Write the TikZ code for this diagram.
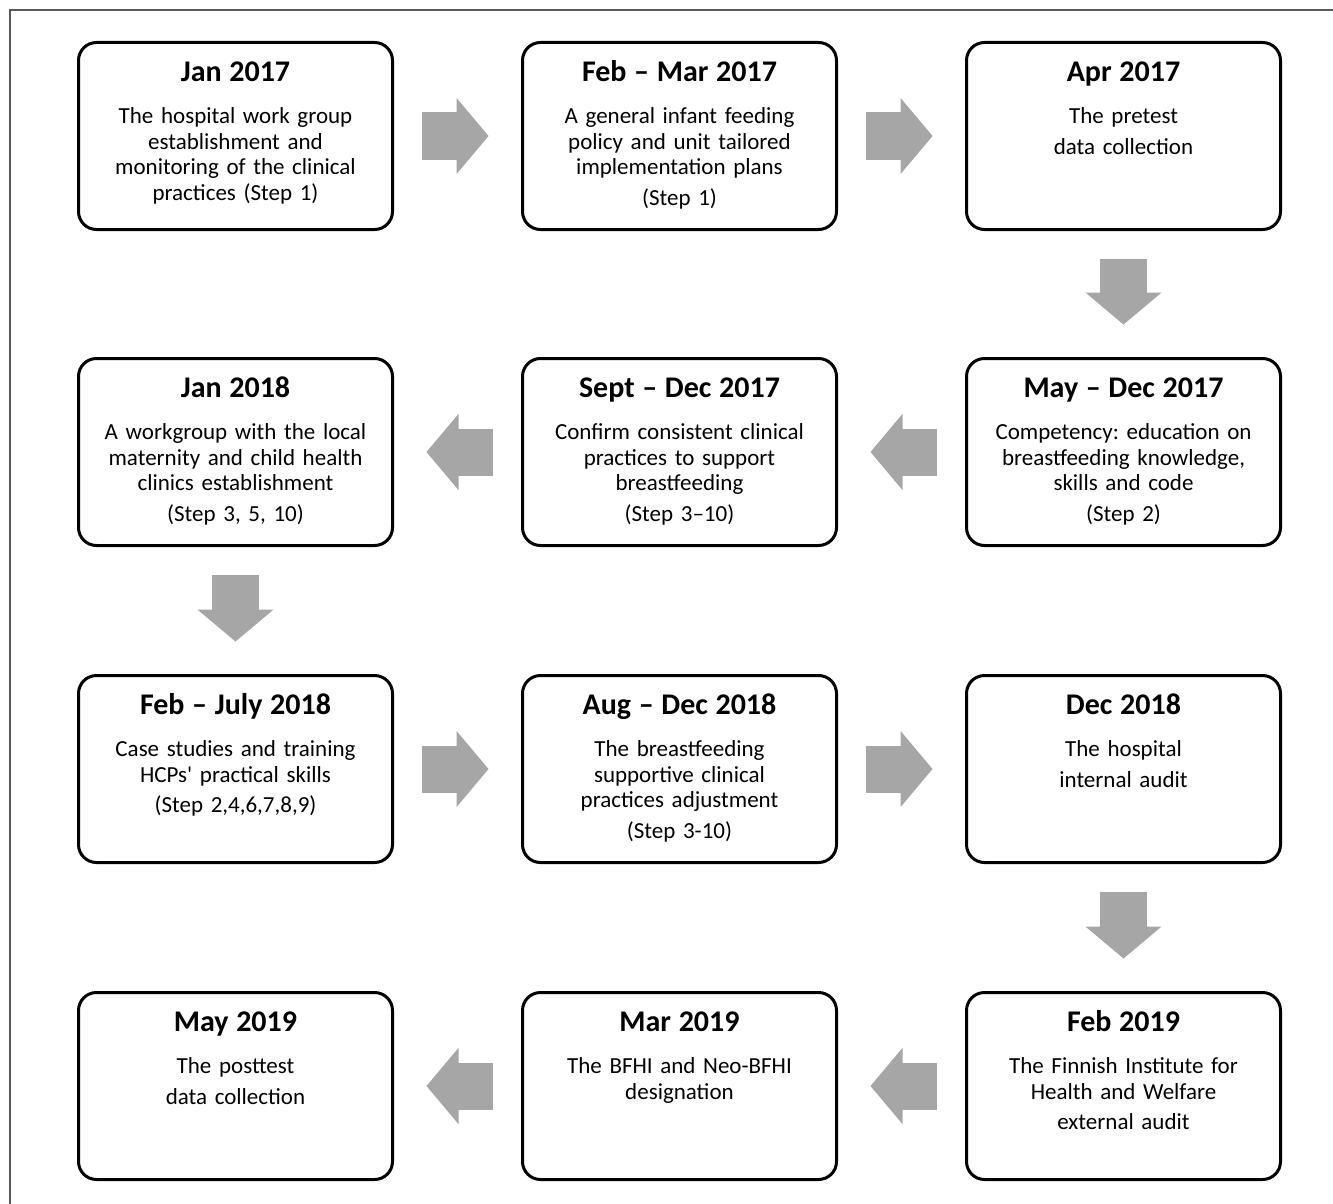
\documentclass[tikz,border=0pt]{standalone}
\usepackage{fontspec}
\setmainfont{Carlito}
\usetikzlibrary{arrows.meta}

\definecolor{arrowgray}{RGB}{166,166,166}
\newcommand{\stagedate}[1]{{\fontsize{15}{18}\selectfont\bfseries #1}\\[8.5pt]}

\begin{document}
\frenchspacing
\begin{tikzpicture}[
    x=0.5pt, y=-0.5pt,
    font=\fontsize{11.5}{12.75}\selectfont,
    % Node styles
    stagebox/.style={
        rectangle, rounded corners=9pt,
        draw=black, line width=1.5pt,
        text width=149pt, inner xsep=4pt, inner ysep=0pt,
        text height=19.4pt, text depth=74.1pt,
        align=center
    },
    flowarrow/.style={
        draw=arrowgray, line width=23.5pt,
        -{Triangle[length=16pt, width=38pt, line width=0.6pt]},
        shorten <=14pt, shorten >=16.25pt
    },
]
\useasboundingbox (0,0) rectangle (1333,1204);

% outer frame
\draw[black!65, line width=0.75pt] (10,1204) -- (10,10) -- (1333,10);

%% ---- ROW 1 ----
\node[stagebox] (jan17)    at (235.5, 136) {\stagedate{Jan 2017}The hospital work group\\establishment and\\monitoring of the clinical\\practices (Step 1)};
\node[stagebox] (febmar17) at (679.5, 136) {\stagedate{Feb -- Mar 2017}A general infant feeding\\policy and unit tailored\\implementation plans\\[2.5pt](Step 1)};
\node[stagebox] (apr17)    at (1123.5, 136) {\stagedate{Apr 2017}The pretest\\[2.5pt]data collection};

%% ---- ROW 2 ----
\node[stagebox] (maydec17)  at (1123.5, 452) {\stagedate{May -- Dec 2017}Competency: education on\\breastfeeding knowledge,\\skills and code\\[2.5pt](Step 2)};
\node[stagebox] (septdec17) at (679.5, 452) {\stagedate{Sept -- Dec 2017}Confirm consistent clinical\\practices to support\\breastfeeding\\[2.5pt](Step 3--10)};
\node[stagebox] (jan18)     at (235.5, 452) {\stagedate{Jan 2018}A workgroup with the local\\maternity and child health\\clinics establishment\\[2.5pt](Step 3, 5, 10)};

%% ---- ROW 3 ----
\node[stagebox] (febjul18) at (235.5, 769) {\stagedate{Feb -- July 2018}Case studies and training\\HCPs\textquotesingle\ practical skills\\[2.5pt](Step 2,4,6,7,8,9)};
\node[stagebox] (augdec18) at (679.5, 769) {\stagedate{Aug -- Dec 2018}The breastfeeding\\supportive clinical\\practices adjustment\\[2.5pt](Step 3-10)};
\node[stagebox] (dec18)    at (1123.5, 769) {\stagedate{Dec 2018}The hospital\\[2.5pt]internal audit};

%% ---- ROW 4 ----
\node[stagebox] (feb19) at (1123.5, 1086) {\stagedate{Feb 2019}The Finnish Institute for\\Health and Welfare\\[2.5pt]external audit};
\node[stagebox] (mar19) at (679.5, 1086) {\stagedate{Mar 2019}The BFHI and Neo-BFHI\\designation};
\node[stagebox] (may19) at (235.5, 1086) {\stagedate{May 2019}The posttest\\[2.5pt]data collection};

%% ---- ARROWS ----
\draw[flowarrow] (jan17) -- (febmar17);
\draw[flowarrow] (febmar17) -- (apr17);
\draw[flowarrow] (apr17) -- (maydec17);
\draw[flowarrow] (maydec17) -- (septdec17);
\draw[flowarrow] (septdec17) -- (jan18);
\draw[flowarrow] (jan18) -- (febjul18);
\draw[flowarrow] (febjul18) -- (augdec18);
\draw[flowarrow] (augdec18) -- (dec18);
\draw[flowarrow] (dec18) -- (feb19);
\draw[flowarrow] (feb19) -- (mar19);
\draw[flowarrow] (mar19) -- (may19);

\end{tikzpicture}
\end{document}
